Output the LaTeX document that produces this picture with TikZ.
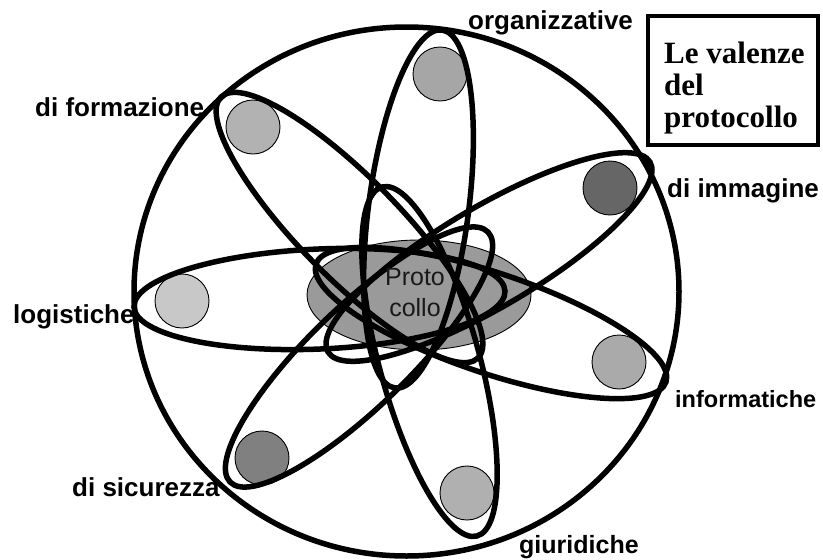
\documentclass[tikz,border=0pt]{standalone}
\usepackage{fontspec}
\newfontfamily\sansf{Liberation Sans}
\newfontfamily\seriff{Liberation Serif}
\usetikzlibrary{shapes.geometric,calc}
\definecolor{nuc}{HTML}{9A9A9A}
\definecolor{eorgc}{HTML}{A6A6A6}
\definecolor{eforc}{HTML}{B2B2B2}
\definecolor{eimmc}{HTML}{666666}
\definecolor{elogc}{HTML}{C8C8C8}
\definecolor{einfc}{HTML}{AAAAAA}
\definecolor{esicc}{HTML}{808080}
\definecolor{egiuc}{HTML}{B0B0B0}
\newcommand\orbitfrom[3]{\path let \p1=(#1), \p2=(#2), \n1={atan2(\y2-\y1,\x2-\x1)}, \n2={veclen(\x2-\x1,\y2-\y1)} in node[orbitshape, minimum width=\n2, rotate=\n1] (#3) at ($(#1)!0.5!(#2)$) {};}
\begin{document}
\begin{tikzpicture}[x=1pt,y=-1pt,
  orbitshape/.style={ellipse, draw=black, line width=5.5pt, minimum height=100pt, inner sep=0pt, outer sep=0pt},
  electron/.style={circle, draw=black, line width=0.9pt, minimum size=54pt, inner sep=0pt},
  lab/.style={font=\sansf\bfseries\fontsize{26}{30}\selectfont, anchor=base west, inner sep=0pt},
  boxlab/.style={font=\seriff\bfseries\fontsize{31}{34}\selectfont, anchor=base west, inner sep=0pt}]
\path[use as bounding box, fill=white] (0,0) rectangle (823,560);
% outer atom
\node[ellipse, draw=black, line width=5.5pt, minimum width=545pt, minimum height=529pt, inner sep=0pt] (atom) at (406.5,291.5) {};
% nucleus
\node[ellipse, draw=black, line width=0.9pt, fill=nuc, minimum width=224pt, minimum height=110pt, inner sep=0pt] (nucleus) at (419,295) {};
% electrons
\node[electron, fill=eorgc] (eorg) at (440,74) {};
\node[electron, fill=eforc] (efor) at (253,127) {};
\node[electron, fill=eimmc] (eimm) at (610,188) {};
\node[electron, fill=elogc] (elog) at (182,301) {};
\node[electron, fill=einfc] (einf) at (619,362) {};
\node[electron, fill=esicc] (esic) at (262,458) {};
\node[electron, fill=egiuc] (egiu) at (467,493) {};
% orbit tips
\coordinate (orgA) at (442,30);  \coordinate (orgB) at (395,388);
\coordinate (giuA) at (477,536); \coordinate (giuB) at (382,187);
\coordinate (logA) at (134,307); \coordinate (logB) at (505,291);
\coordinate (infA) at (666,382); \coordinate (infB) at (316,264);
\coordinate (immA) at (650,162); \coordinate (immB) at (328,352);
\coordinate (forA) at (221,97);  \coordinate (forB) at (478,358);
\coordinate (sicA) at (230,482); \coordinate (sicB) at (488,232);
\orbitfrom{orgB}{orgA}{oorg}
\orbitfrom{giuB}{giuA}{ogiu}
\orbitfrom{logB}{logA}{olog}
\orbitfrom{infB}{infA}{oinf}
\orbitfrom{immB}{immA}{oimm}
\orbitfrom{forB}{forA}{ofor}
\orbitfrom{sicB}{sicA}{osic}
% nucleus text
\node[font=\sansf\fontsize{25}{31}\selectfont, align=center, text=black!90, inner sep=0pt] (ptxt) at (415,293) {Proto\\collo};
% labels
\node[lab] (lorg) at (468,29) {organizzative};
\node[lab] (lfor) at (35,116) {di formazione};
\node[lab] (limm) at (667,197) {di immagine};
\node[lab] (llog) at (13,323) {logistiche};
\node[lab, font=\sansf\bfseries\fontsize{23.5}{28}\selectfont] (linf) at (675,407) {informatiche};
\node[lab] (lsic) at (72,496) {di sicurezza};
\node[lab, font=\sansf\bfseries\fontsize{25}{30}\selectfont] (lgiu) at (519,553) {giuridiche};
% title box
\node[draw=black, line width=4.5pt, minimum width=170pt, minimum height=129pt, inner sep=0pt] (tbox) at (733,80.5) {};
\node[boxlab] (t1) at (664,63) {Le valenze};
\node[boxlab] (t2) at (664,95) {del};
\node[boxlab] (t3) at (664,127) {protocollo};
\end{tikzpicture}
\end{document}
